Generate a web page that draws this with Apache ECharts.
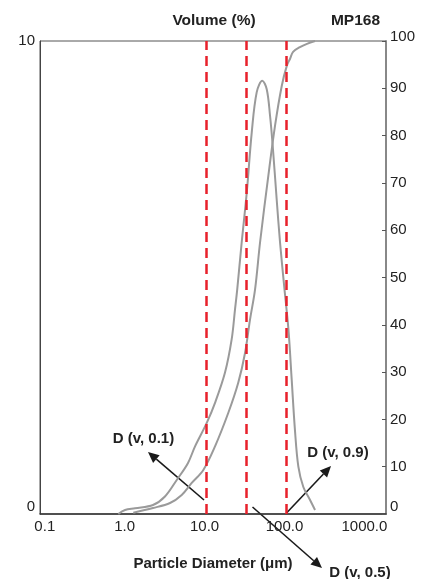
<!DOCTYPE html>
<html>
<head>
<meta charset="utf-8">
<script src="https://cdn.jsdelivr.net/npm/echarts@6/dist/echarts.min.js"></script>
<style>html,body{margin:0;padding:0;background:#fff;}#c{width:430px;height:579px;}</style>
</head>
<body>
<div id="c"></div>
<script>
// Frequency curve (Volume %, left axis): particle diameter (µm) and value
const freqDiameter = [0.832, 1.01, 1.35, 2.26, 3.19, 4.48, 6.20, 7.59, 10.6, 13.5, 18.0, 21.8, 24.0, 25.6, 29.1, 33.7, 38.9, 44.9, 52.7, 59.9, 65.9, 71.2, 79.8, 87.9, 98.6, 112, 123, 135, 149, 172, 208, 241];
const freqVolume   = [0.0, 0.085, 0.12, 0.19, 0.37, 0.72, 1.08, 1.43, 1.92, 2.35, 2.99, 3.69, 4.32, 4.75, 5.74, 6.80, 8.07, 8.92, 9.16, 8.98, 8.42, 7.78, 6.65, 5.74, 4.85, 3.90, 2.84, 1.78, 1.00, 0.57, 0.30, 0.085];
// Cumulative curve (right axis, %)
const cumDiameter = [1.28, 2.26, 3.69, 5.17, 6.90, 9.64, 13.5, 19.8, 26.4, 32.1, 37.0, 42.8, 49.4, 62.7, 76.1, 92.3, 107, 117, 128, 156, 191, 241];
const cumPercent  = [0.28, 1.27, 2.33, 4.03, 6.57, 9.32, 14.3, 21.4, 27.8, 34.1, 41.1, 47.5, 57.4, 71.5, 82.1, 90.5, 94.8, 96.2, 97.7, 98.7, 99.4, 100];
// D(v,0.1), D(v,0.5), D(v,0.9) diameters (µm)
const dValues = [10.4, 33.0, 104];
const dLabels = ['D (v, 0.1)', 'D (v, 0.5)', 'D (v, 0.9)'];
// x tick labels (diameters)
const xTicks = [0.1, 1, 10, 100, 1000];

const FONT = 'Liberation Sans';
const chart = echarts.init(document.getElementById('c'), null, {renderer: 'canvas'});

const freqData = freqDiameter.map((d, i) => [Math.log10(d), freqVolume[i]]);
const cumData = cumDiameter.map((d, i) => [Math.log10(d), cumPercent[i]]);

// annotation arrows (pixel positions): [fromX, fromY, toX, toY]
const arrows = [
  [204, 500, 148, 452],
  [252.5, 507, 322, 568],
  [286.5, 513, 331, 466]
];
const labelPos = [[143.5, 438.5], [360, 573], [338, 453]];

const graphics = [
  {type: 'text', x: 214, y: 21, style: {text: 'Volume (%)', font: 'bold 15.5px ' + FONT, fill: '#222', align: 'center', verticalAlign: 'middle'}},
  {type: 'text', x: 355.5, y: 21, style: {text: 'MP168', font: 'bold 15.5px ' + FONT, fill: '#222', align: 'center', verticalAlign: 'middle'}}
];
arrows.forEach((a, i) => {
  const [x1, y1, x2, y2] = a;
  const ang = Math.atan2(y2 - y1, x2 - x1);
  const L = 11, W = 5;
  const bx = x2 - L * Math.cos(ang), by = y2 - L * Math.sin(ang);
  const px = -Math.sin(ang) * W, py = Math.cos(ang) * W;
  graphics.push({type: 'line', shape: {x1: x1, y1: y1, x2: bx, y2: by}, style: {stroke: '#1a1a1a', lineWidth: 1.6}});
  graphics.push({type: 'polygon', shape: {points: [[x2, y2], [bx + px, by + py], [bx - px, by - py]]}, style: {fill: '#1a1a1a'}});
  graphics.push({type: 'text', x: labelPos[i][0], y: labelPos[i][1], style: {text: dLabels[i], font: 'bold 15px ' + FONT, fill: '#222', align: 'center', verticalAlign: 'middle'}});
});

const option = {
  animation: false,
  backgroundColor: '#fff',
  grid: {left: 40, right: 44, top: 41, bottom: 65, containLabel: false, outerBoundsMode: 'none',
         show: true, borderColor: '#555', borderWidth: 1},
  xAxis: {
    type: 'value', min: -1.06, max: 3.27,
    name: 'Particle Diameter (\u03bcm)', nameLocation: 'middle', nameGap: 42,
    nameTextStyle: {fontFamily: FONT, fontWeight: 'bold', fontSize: 15, color: '#222'},
    axisLine: {show: true, onZero: false, lineStyle: {color: '#333', width: 1.5}},
    axisTick: {show: false},
    splitLine: {show: false},
    axisLabel: {
      customValues: xTicks.map(v => Math.log10(v)),
      formatter: v => Math.pow(10, v).toFixed(1),
      fontFamily: FONT, fontSize: 15, color: '#222', margin: 5
    }
  },
  yAxis: [
    {
      type: 'value', min: 0, max: 10, interval: 10, position: 'left',
      axisLine: {show: true, onZero: false, lineStyle: {color: '#444', width: 1}},
      axisTick: {show: false},
      splitLine: {show: false},
      axisLabel: {fontFamily: FONT, fontSize: 15, color: '#222', margin: 5, verticalAlignMinLabel: 'bottom'}
    },
    {
      type: 'value', min: 0, max: 100, interval: 10, position: 'right',
      axisLine: {show: true, onZero: false, lineStyle: {color: '#888', width: 2}},
      axisTick: {show: true, inside: true, length: 4, lineStyle: {color: '#555', width: 1}},
      splitLine: {show: false},
      axisLabel: {
        fontFamily: FONT, fontSize: 15, color: '#222', margin: 4, verticalAlignMinLabel: 'bottom',
        formatter: v => v === 100 ? '{t|100}' : String(v),
        rich: {t: {fontFamily: FONT, fontSize: 15, color: '#222', padding: [0, 0, 8, 0]}}
      }
    }
  ],
  series: [
    {
      type: 'line', name: 'Volume', yAxisIndex: 0, data: freqData, smooth: 0.35, symbol: 'none',
      lineStyle: {color: '#9a9a9a', width: 2},
      markLine: {
        silent: true, symbol: 'none', label: {show: false},
        lineStyle: {color: '#e8212b', type: [10, 6], width: 2.5},
        data: dValues.map(d => ({xAxis: Math.log10(d)}))
      }
    },
    {
      type: 'line', name: 'Cumulative', yAxisIndex: 1, data: cumData, smooth: 0.35, symbol: 'none',
      lineStyle: {color: '#9a9a9a', width: 2}
    }
  ],
  graphic: graphics
};
chart.setOption(option);
</script>
</body>
</html>
